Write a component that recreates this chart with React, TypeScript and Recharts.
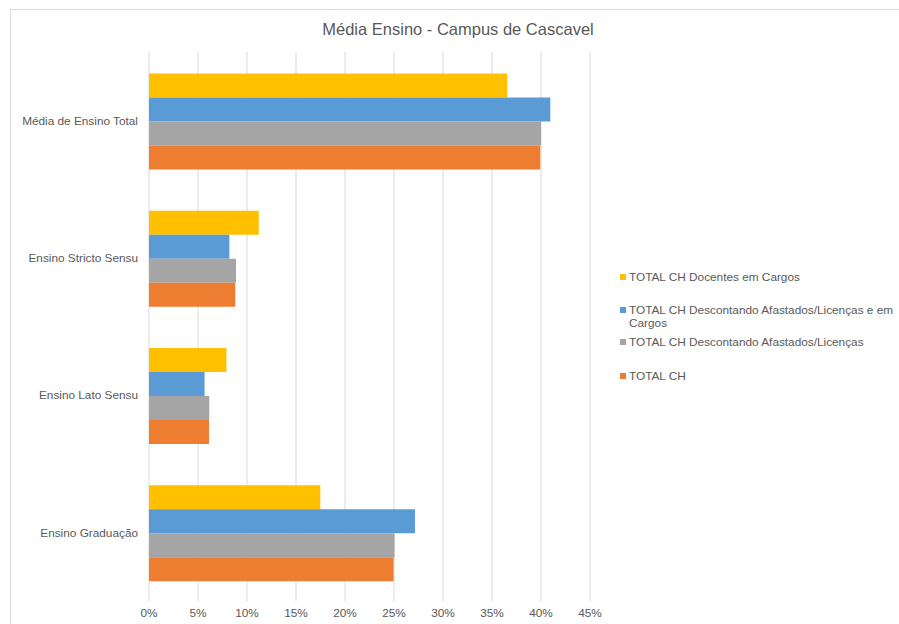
import React from "react";
import { BarChart, Bar, XAxis, YAxis, CartesianGrid, Legend } from "recharts";

const categories = [
  "Média de Ensino Total",
  "Ensino Stricto Sensu",
  "Ensino Lato Sensu",
  "Ensino Graduação",
];
const docentesEmCargos = [36.55, 11.2, 7.9, 17.48];
const descontandoEmCargos = [40.95, 8.2, 5.67, 27.14];
const descontandoAfastados = [40.0, 8.88, 6.15, 25.05];
const totalCH = [39.93, 8.8, 6.12, 24.96];
const xTicks = [0, 5, 10, 15, 20, 25, 30, 35, 40, 45];

const seriesNames = [
  "TOTAL CH Docentes em Cargos",
  "TOTAL CH Descontando Afastados/Licenças e em Cargos",
  "TOTAL CH Descontando Afastados/Licenças",
  "TOTAL CH",
];
const colors = ["#FFC000", "#5B9BD5", "#A5A5A5", "#ED7D31"];

const data = categories.map((c, i) => ({
  name: c,
  s0: docentesEmCargos[i],
  s1: descontandoEmCargos[i],
  s2: descontandoAfastados[i],
  s3: totalCH[i],
}));

const FONT = "'Liberation Sans', Arial, sans-serif";
const TXT = "#595959";
const FS = 11.8;

const legendTops = [271, 304, 336, 370];

const renderLegend = () => (
  <div style={{ position: "relative", width: 290, height: 120, fontFamily: FONT, fontSize: FS, color: TXT }}>
    {seriesNames.map((n, i) => (
      <div key={n} style={{ position: "absolute", left: 0, top: legendTops[i] - 271, lineHeight: "13px", whiteSpace: "nowrap" }}>
        <span
          style={{
            position: "absolute",
            left: 0,
            top: 3,
            width: 6,
            height: 6,
            background: colors[i],
          }}
        />
        <div style={{ marginLeft: 9 }}>
          {i === 1 ? (
            <>
              TOTAL CH Descontando Afastados/Licenças e em
              <br />
              Cargos
            </>
          ) : (
            n
          )}
        </div>
      </div>
    ))}
  </div>
);

export default function App() {
  return (
    <div style={{ position: "fixed", left: 0, top: 0, width: 899, height: 624, background: "#fff", overflow: "hidden" }}>
      <div
        style={{
          position: "absolute",
          left: 10,
          top: 9,
          width: 960,
          height: 700,
          border: "1px solid #d9d9d9",
          boxSizing: "border-box",
        }}
      />
      <div
        style={{
          position: "absolute",
          left: 0,
          width: 916,
          top: 19,
          textAlign: "center",
          fontFamily: FONT,
          fontSize: 16.5,
          color: TXT,
          lineHeight: "20px",
        }}
      >
        Média Ensino - Campus de Cascavel
      </div>
      <div style={{ position: "absolute", left: 0, top: 0 }}>
        <BarChart
          width={899}
          height={624}
          data={data}
          layout="vertical"
          margin={{ top: 52, right: 309, bottom: 0, left: 0 }}
          barCategoryGap="15.6%"
          barGap={0}
        >
          <CartesianGrid horizontal={false} stroke="#d9d9d9" />
          <XAxis
            type="number"
            domain={[0, 45]}
            ticks={xTicks}
            tickFormatter={(v) => `${v}%`}
            axisLine={false}
            tickLine={false}
            tickSize={0}
            tickMargin={8}
            height={23}
            interval={0}
            tick={{ fill: TXT, fontSize: FS, fontFamily: FONT }}
          />
          <YAxis
            type="category"
            dataKey="name"
            width={149}
            axisLine={false}
            tickLine={false}
            tickSize={0}
            tickMargin={11}
            interval={0}
            tick={{ fill: TXT, fontSize: FS, fontFamily: FONT }}
          />
          <Legend
            layout="vertical"
            align="center"
            verticalAlign="middle"
            wrapperStyle={{ left: 620, top: 271, width: 290 }}
            content={renderLegend}
          />
          {["s0", "s1", "s2", "s3"].map((k, i) => (
            <Bar key={k} dataKey={k} name={seriesNames[i]} fill={colors[i]} isAnimationActive={false} />
          ))}
        </BarChart>
      </div>
    </div>
  );
}
